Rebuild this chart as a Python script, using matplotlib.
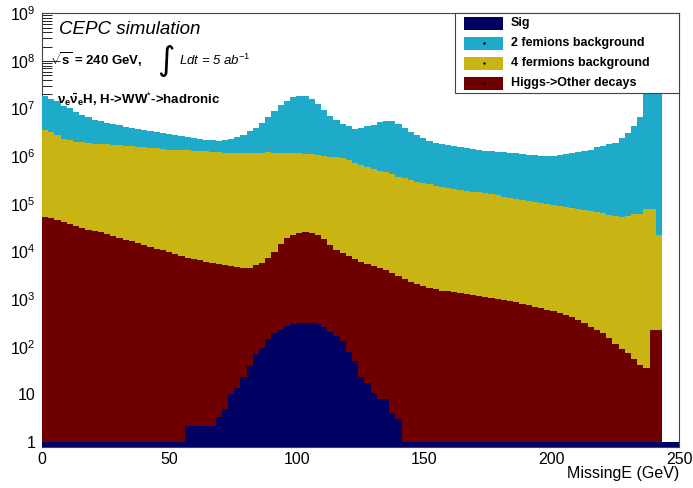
import numpy as np
import matplotlib
matplotlib.use('Agg')
import matplotlib.pyplot as plt
from matplotlib.patches import Rectangle
from matplotlib.lines import Line2D
from matplotlib.ticker import FixedLocator, FixedFormatter, LogLocator, NullFormatter, MultipleLocator

plt.rcParams['font.family'] = ['Liberation Sans', 'DejaVu Sans']
plt.rcParams['mathtext.fontset'] = 'custom'
plt.rcParams['mathtext.rm'] = 'Liberation Sans'
plt.rcParams['mathtext.it'] = 'Liberation Sans:italic'
plt.rcParams['mathtext.bf'] = 'Liberation Sans:bold'

# MissingE histograms, 100 bins of ~2.43 GeV (signal has one extra bin up to 250)
sig = [1, 1, 1, 1, 1, 1, 1, 1, 1, 1,
       1, 1, 1, 1, 1, 1, 1, 1, 1, 1,
       1, 1, 1, 2.2, 2.2, 2.2, 2.2, 2.2, 3.4, 4.9,
       10, 13.6, 22.6, 39, 69, 96, 142, 190, 224, 275,
       297, 310, 315, 310, 295, 260, 200, 165, 135, 78,
       50, 23, 17, 10.7, 8.1, 8.1, 4, 3, 1, 1,
       1, 1, 1, 1, 1, 1, 1, 1, 1, 1,
       1, 1, 1, 1, 1, 1, 1, 1, 1, 1,
       1, 1, 1, 1, 1, 1, 1, 1, 1, 1,
       1, 1, 1, 1, 1, 1, 1, 1, 1, 1,
       1]

higgs_other = [54000, 50000, 45700, 41700, 38000, 34700, 31600, 28800, 26900, 25100,
               22900, 20900, 19500, 17800, 16200, 14800, 13800, 12600, 11500, 10700,
               9770, 8910, 8130, 7410, 6920, 6460, 6030, 5750, 5370, 5130,
               4900, 4790, 4570, 4370, 5010, 5750, 7240, 9550, 13800, 18600,
               22400, 24500, 25100, 24000, 21900, 17800, 13200, 10500, 9120, 7940,
               6760, 5890, 5370, 5010, 4470, 4070, 3550, 3020, 2630, 2340,
               2090, 1910, 1740, 1620, 1510, 1450, 1380, 1320, 1260, 1200,
               1170, 1120, 1070, 1020, 977, 912, 851, 794, 741, 692,
               646, 603, 562, 513, 468, 417, 372, 316, 263, 219,
               191, 151, 112, 89, 72, 55, 41, 35, 219, 219]

four_ferm = [3.50e6, 3.11e6, 2.70e6, 2.30e6, 2.10e6, 1.97e6, 1.92e6, 1.83e6, 1.79e6, 1.75e6,
             1.76e6, 1.72e6, 1.68e6, 1.64e6, 1.60e6, 1.57e6, 1.54e6, 1.50e6, 1.47e6, 1.44e6,
             1.37e6, 1.34e6, 1.31e6, 1.31e6, 1.28e6, 1.25e6, 1.25e6, 1.22e6, 1.22e6, 1.19e6,
             1.19e6, 1.19e6, 1.19e6, 1.19e6, 1.19e6, 1.19e6, 1.19e6, 1.18e6, 1.18e6, 1.15e6,
             1.15e6, 1.12e6, 1.10e6, 1.08e6, 1.03e6, 9.8e5, 9.6e5, 9.4e5, 9.2e5, 8.4e5,
             7.2e5, 6.4e5, 5.8e5, 5.3e5, 4.86e5, 4.53e5, 4.13e5, 3.69e5, 3.44e5, 3.14e5,
             2.86e5, 2.73e5, 2.55e5, 2.38e5, 2.22e5, 2.13e5, 2.03e5, 1.94e5, 1.85e5, 1.77e5,
             1.73e5, 1.65e5, 1.57e5, 1.50e5, 1.40e5, 1.34e5, 1.28e5, 1.22e5, 1.14e5, 1.09e5,
             1.04e5, 9.9e4, 9.5e4, 9.07e4, 8.66e4, 8.28e4, 7.9e4, 7.56e4, 7.05e4, 6.74e4,
             6.29e4, 5.87e4, 5.61e4, 5.36e4, 5.49e4, 6.02e4, 6.02e4, 7.93e4, 7.92e4, 2.17e4]

two_ferm = [1.46e7, 1.30e7, 1.14e7, 9.1e6, 7.9e6, 6.5e6, 5.5e6, 4.75e6, 4.07e6, 3.72e6,
            3.23e6, 2.94e6, 2.77e6, 2.51e6, 2.27e6, 2.14e6, 2.0e6, 1.88e6, 1.76e6, 1.64e6,
            1.57e6, 1.47e6, 1.37e6, 1.25e6, 1.16e6, 1.08e6, 9.8e5, 9.6e5, 9.1e5, 9.9e5,
            1.09e6, 1.31e6, 1.62e6, 2.11e6, 2.78e6, 3.81e6, 5.41e6, 7.7e6, 1.05e7, 1.36e7,
            1.62e7, 1.75e7, 1.71e7, 1.47e7, 1.16e7, 8.55e6, 6.1e6, 4.8e6, 3.86e6, 3.52e6,
            3.08e6, 3.33e6, 3.68e6, 4.03e6, 4.64e6, 5.04e6, 5.08e6, 4.42e6, 3.63e6, 2.84e6,
            2.46e6, 2.12e6, 1.78e6, 1.62e6, 1.56e6, 1.49e6, 1.42e6, 1.35e6, 1.29e6, 1.23e6,
            1.15e6, 1.12e6, 1.10e6, 1.08e6, 1.06e6, 1.04e6, 1.02e6, 1.0e6, 9.6e5, 9.4e5,
            9.2e5, 9.2e5, 9.3e5, 9.6e5, 1.01e6, 1.07e6, 1.15e6, 1.18e6, 1.31e6, 1.48e6,
            1.56e6, 1.76e6, 1.85e6, 2.35e6, 2.97e6, 4.21e6, 6.7e6, 3e7, 3e7, 3e7]

labels = ['Sig', '2 femions background', '4 fermions background', 'Higgs->Other decays']
colors = ['#000062', '#1eabc9', '#c8b514', '#6e0000']

ytick_vals = [1, 10, 1e2, 1e3, 1e4, 1e5, 1e6, 1e7, 1e8, 1e9]
ytick_labels = ['1', '10', '$10^{2}$', '$10^{3}$', '$10^{4}$', '$10^{5}$',
                '$10^{6}$', '$10^{7}$', '$10^{8}$', '$10^{9}$']

W, H = 693, 488


def fx(px):
    return px / W


def fy(py):
    return 1 - py / H


fig = plt.figure(figsize=(W / 100, H / 100), dpi=100)
ax = fig.add_axes([fx(42), fy(447.3), (679 - 42) / W, (447.3 - 13.3) / H])

edges = np.append(np.linspace(0, 243.3, 101), 250.0)

# stack: Sig at the bottom, then Higgs other, 4f, 2f on top
lower = np.full(len(edges) - 1, 1e-3)
stack = [(sig, colors[0]), (higgs_other + [0], colors[3]),
         (four_ferm + [0], colors[2]), (two_ferm + [0], colors[1])]
for i, (vals, col) in enumerate(stack):
    upper = np.array(vals, dtype=float) + (lower if i > 0 else 0)
    ax.stairs(upper, edges, baseline=lower, fill=True, color=col, lw=0.4, zorder=3)
    lower = upper

ax.set_xlim(0, 250)
ax.set_yscale('log')
ax.set_ylim(0.774, 1e9)

ax.yaxis.set_major_locator(FixedLocator(ytick_vals))
ax.yaxis.set_major_formatter(FixedFormatter(ytick_labels))
ax.yaxis.set_minor_locator(LogLocator(base=10, subs=np.arange(2, 10), numticks=20))
ax.yaxis.set_minor_formatter(NullFormatter())
ax.xaxis.set_major_locator(MultipleLocator(50))
ax.xaxis.set_minor_locator(MultipleLocator(10))

ax.tick_params(which='both', direction='in', top=False, right=False, color='#222222', width=0.7)
ax.tick_params(which='major', length=13, labelsize=11.5)
ax.tick_params(which='minor', length=7)
ax.tick_params(axis='y', pad=4.5)
ax.tick_params(axis='x', pad=3.5)
for sp in ax.spines.values():
    sp.set_color('#444444')
    sp.set_linewidth(0.8)

fig.text(fx(679), fy(478), 'MissingE (GeV)', ha='right', va='baseline', fontsize=11.5)

# labels in the plot
fig.text(fx(59), fy(34.3), 'CEPC simulation', style='italic', fontsize=13.5, va='baseline')
fig.text(fx(50), fy(65), r'$\sqrt{\mathbf{s}}$ = 240 GeV,', weight='bold', fontsize=9.5, va='baseline')
fig.text(fx(157), fy(70), '\u222b', family='DejaVu Sans', fontsize=24, va='baseline')
fig.text(fx(179), fy(65), r'Ldt = 5 ab$^{-1}$', style='italic', fontsize=9.5, va='baseline')
fig.text(fx(57), fy(104), r'$\mathbf{\nu_{e}\bar{\nu}_{e}}$H, H->WW$^{*}$->hadronic',
         weight='bold', fontsize=9.5, va='baseline')

# legend box drawn by hand, ROOT style
fig.add_artist(Rectangle((fx(455), fy(93)), (679 - 455) / W, 80 / H, transform=fig.transFigure,
                         fc='white', ec='#444444', lw=0.8, zorder=10))
leg_cols = [colors[0], colors[1], colors[2], colors[3]]
for k, yc in enumerate([23, 43, 63, 83]):
    fig.add_artist(Rectangle((fx(464), fy(yc + 6.5)), 39 / W, 13 / H, transform=fig.transFigure,
                             fc=leg_cols[k], ec='none', zorder=11))
    fig.add_artist(Line2D([fx(483.5)], [fy(yc)], transform=fig.transFigure, marker='.',
                          ms=1.5, color='black', zorder=12))
    fig.text(fx(511), fy(yc), labels[k], weight='bold', fontsize=9, va='center', zorder=12)

fig.savefig('out.png', dpi=100)
